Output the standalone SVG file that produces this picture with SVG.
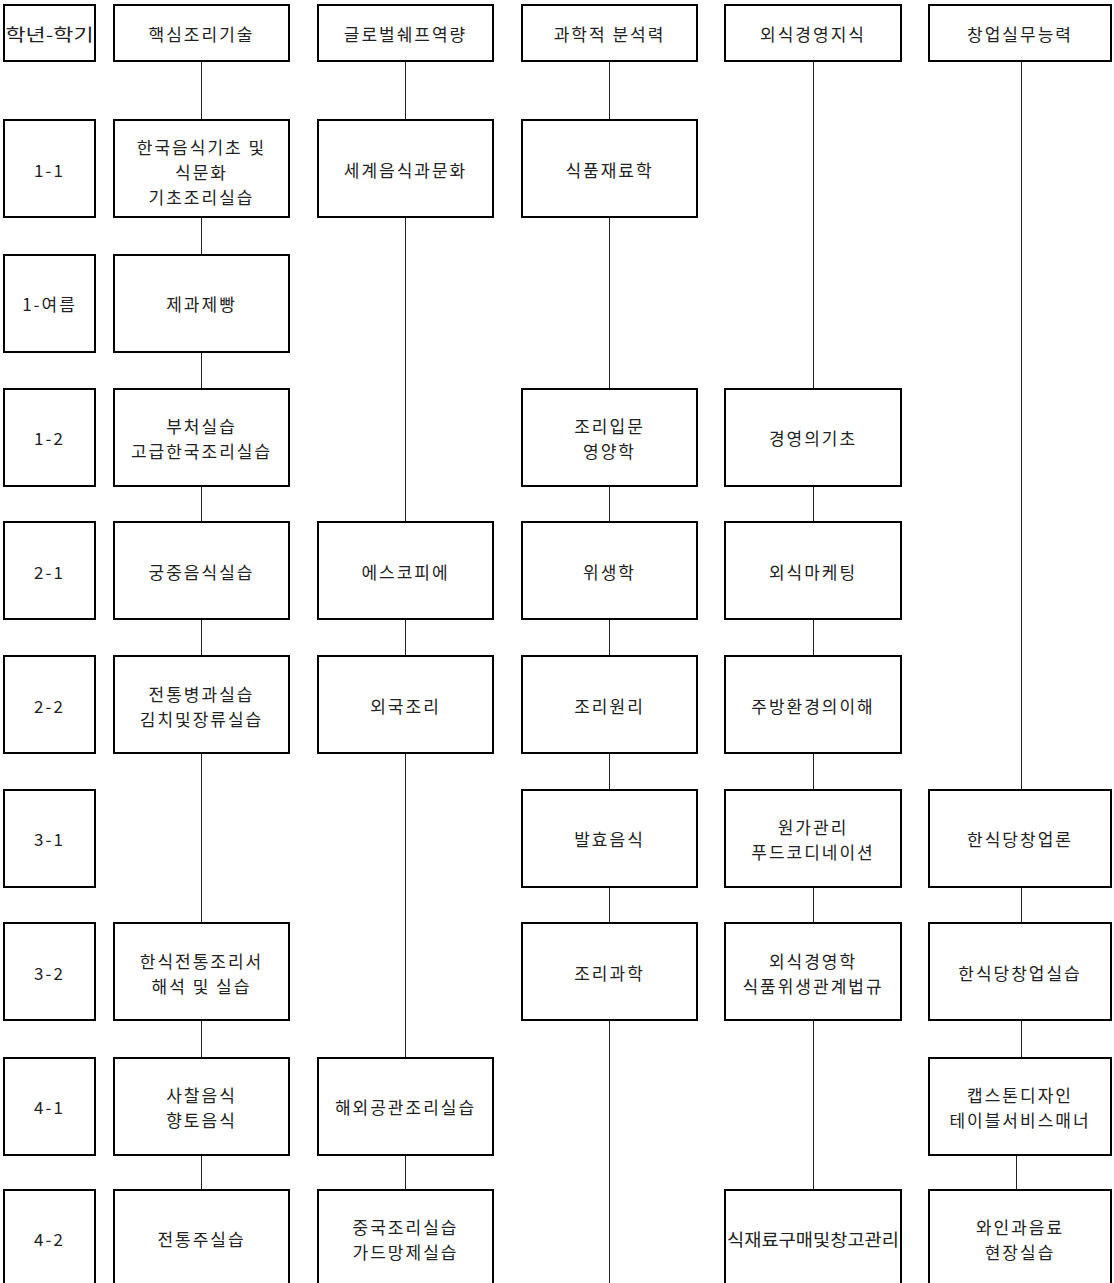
<svg xmlns="http://www.w3.org/2000/svg" width="1114" height="1283" viewBox="0 0 1114 1283">
<style>
.b{fill:#fff;stroke:#000;stroke-width:2}
.t{font-family:"Noto Sans CJK KR","Noto Sans",sans-serif;font-size:17px;letter-spacing:2px;fill:#222;text-anchor:middle;dominant-baseline:central}
.c line{stroke:#222;stroke-width:1}
</style>
<rect width="1114" height="1283" fill="#fff"/>
<g class="c" id="connectors">
<line x1="201.5" y1="61" x2="201.5" y2="120"/>
<line x1="201.5" y1="217" x2="201.5" y2="255"/>
<line x1="201.5" y1="352" x2="201.5" y2="389"/>
<line x1="201.5" y1="486" x2="201.5" y2="522"/>
<line x1="201.5" y1="619" x2="201.5" y2="656"/>
<line x1="201.5" y1="753" x2="201.5" y2="923"/>
<line x1="201.5" y1="1020" x2="201.5" y2="1058"/>
<line x1="201.5" y1="1155" x2="201.5" y2="1190"/>
<line x1="405.5" y1="61" x2="405.5" y2="120"/>
<line x1="405.5" y1="217" x2="405.5" y2="522"/>
<line x1="405.5" y1="619" x2="405.5" y2="656"/>
<line x1="405.5" y1="753" x2="405.5" y2="1058"/>
<line x1="405.5" y1="1155" x2="405.5" y2="1190"/>
<line x1="609.5" y1="61" x2="609.5" y2="120"/>
<line x1="609.5" y1="217" x2="609.5" y2="389"/>
<line x1="609.5" y1="486" x2="609.5" y2="522"/>
<line x1="609.5" y1="619" x2="609.5" y2="656"/>
<line x1="609.5" y1="753" x2="609.5" y2="790"/>
<line x1="609.5" y1="887" x2="609.5" y2="923"/>
<line x1="609.5" y1="1020" x2="609.5" y2="1283"/>
<line x1="813.5" y1="61" x2="813.5" y2="389"/>
<line x1="813.5" y1="486" x2="813.5" y2="522"/>
<line x1="813.5" y1="619" x2="813.5" y2="656"/>
<line x1="813.5" y1="753" x2="813.5" y2="790"/>
<line x1="813.5" y1="887" x2="813.5" y2="923"/>
<line x1="813.5" y1="1020" x2="813.5" y2="1190"/>
<line x1="1021.5" y1="61" x2="1021.5" y2="790"/>
<line x1="1021.5" y1="887" x2="1021.5" y2="923"/>
<line x1="1021.5" y1="1020" x2="1021.5" y2="1058"/>
<line x1="1016.5" y1="1155" x2="1016.5" y2="1190"/>
</g>
<g id="h0"><rect class="b" x="4" y="5" width="91" height="56"/><text class="t" x="49.5" y="33" textLength="88" lengthAdjust="spacingAndGlyphs" style="letter-spacing:0">학년-학기</text></g>
<g id="h1"><rect class="b" x="114" y="5" width="175" height="56"/><text class="t" x="201.5" y="33">핵심조리기술</text></g>
<g id="h2"><rect class="b" x="318" y="5" width="175" height="56"/><text class="t" x="405.5" y="33">글로벌쉐프역량</text></g>
<g id="h3"><rect class="b" x="522" y="5" width="175" height="56"/><text class="t" x="609.5" y="33">과학적 분석력</text></g>
<g id="h4"><rect class="b" x="725" y="5" width="176" height="56"/><text class="t" x="813" y="33">외식경영지식</text></g>
<g id="h5"><rect class="b" x="929" y="5" width="182" height="56"/><text class="t" x="1020" y="33">창업실무능력</text></g>

<g id="s11"><rect class="b" x="4" y="120" width="91" height="97"/><text class="t" x="49.5" y="169">1-1</text></g>
<g id="n11a"><rect class="b" x="114" y="120" width="175" height="97"/><text class="t" x="201.5" y="146">한국음식기초 및<tspan x="201.5" dy="25">식문화</tspan><tspan x="201.5" dy="25">기초조리실습</tspan></text></g>
<g id="n11b"><rect class="b" x="318" y="120" width="175" height="97"/><text class="t" x="405.5" y="169">세계음식과문화</text></g>
<g id="n11c"><rect class="b" x="522" y="120" width="175" height="97"/><text class="t" x="609.5" y="169">식품재료학</text></g>

<g id="s1s"><rect class="b" x="4" y="255" width="91" height="97"/><text class="t" x="49.5" y="303">1-여름</text></g>
<g id="n1sa"><rect class="b" x="114" y="255" width="175" height="97"/><text class="t" x="201.5" y="303">제과제빵</text></g>

<g id="s12"><rect class="b" x="4" y="389" width="91" height="97"/><text class="t" x="49.5" y="437">1-2</text></g>
<g id="n12a"><rect class="b" x="114" y="389" width="175" height="97"/><text class="t" x="201.5" y="425">부처실습<tspan x="201.5" dy="25">고급한국조리실습</tspan></text></g>
<g id="n12c"><rect class="b" x="522" y="389" width="175" height="97"/><text class="t" x="609.5" y="425">조리입문<tspan x="609.5" dy="25">영양학</tspan></text></g>
<g id="n12d"><rect class="b" x="725" y="389" width="176" height="97"/><text class="t" x="813" y="437">경영의기초</text></g>

<g id="s21"><rect class="b" x="4" y="522" width="91" height="97"/><text class="t" x="49.5" y="571">2-1</text></g>
<g id="n21a"><rect class="b" x="114" y="522" width="175" height="97"/><text class="t" x="201.5" y="571">궁중음식실습</text></g>
<g id="n21b"><rect class="b" x="318" y="522" width="175" height="97"/><text class="t" x="405.5" y="571">에스코피에</text></g>
<g id="n21c"><rect class="b" x="522" y="522" width="175" height="97"/><text class="t" x="609.5" y="571">위생학</text></g>
<g id="n21d"><rect class="b" x="725" y="522" width="176" height="97"/><text class="t" x="813" y="571">외식마케팅</text></g>

<g id="s22"><rect class="b" x="4" y="656" width="91" height="97"/><text class="t" x="49.5" y="705">2-2</text></g>
<g id="n22a"><rect class="b" x="114" y="656" width="175" height="97"/><text class="t" x="201.5" y="693">전통병과실습<tspan x="201.5" dy="25">김치및장류실습</tspan></text></g>
<g id="n22b"><rect class="b" x="318" y="656" width="175" height="97"/><text class="t" x="405.5" y="705">외국조리</text></g>
<g id="n22c"><rect class="b" x="522" y="656" width="175" height="97"/><text class="t" x="609.5" y="705">조리원리</text></g>
<g id="n22d"><rect class="b" x="725" y="656" width="176" height="97"/><text class="t" x="813" y="705">주방환경의이해</text></g>

<g id="s31"><rect class="b" x="4" y="790" width="91" height="97"/><text class="t" x="49.5" y="838">3-1</text></g>
<g id="n31c"><rect class="b" x="522" y="790" width="175" height="97"/><text class="t" x="609.5" y="838">발효음식</text></g>
<g id="n31d"><rect class="b" x="725" y="790" width="176" height="97"/><text class="t" x="813" y="826">원가관리<tspan x="813" dy="25">푸드코디네이션</tspan></text></g>
<g id="n31e"><rect class="b" x="929" y="790" width="182" height="97"/><text class="t" x="1020" y="838">한식당창업론</text></g>

<g id="s32"><rect class="b" x="4" y="923" width="91" height="97"/><text class="t" x="49.5" y="972">3-2</text></g>
<g id="n32a"><rect class="b" x="114" y="923" width="175" height="97"/><text class="t" x="201.5" y="960">한식전통조리서<tspan x="201.5" dy="25">해석 및 실습</tspan></text></g>
<g id="n32c"><rect class="b" x="522" y="923" width="175" height="97"/><text class="t" x="609.5" y="972">조리과학</text></g>
<g id="n32d"><rect class="b" x="725" y="923" width="176" height="97"/><text class="t" x="813" y="960">외식경영학<tspan x="813" dy="25">식품위생관계법규</tspan></text></g>
<g id="n32e"><rect class="b" x="929" y="923" width="182" height="97"/><text class="t" x="1020" y="972">한식당창업실습</text></g>

<g id="s41"><rect class="b" x="4" y="1058" width="91" height="97"/><text class="t" x="49.5" y="1106">4-1</text></g>
<g id="n41a"><rect class="b" x="114" y="1058" width="175" height="97"/><text class="t" x="201.5" y="1094">사찰음식<tspan x="201.5" dy="25">향토음식</tspan></text></g>
<g id="n41b"><rect class="b" x="318" y="1058" width="175" height="97"/><text class="t" x="405.5" y="1106">해외공관조리실습</text></g>
<g id="n41e"><rect class="b" x="929" y="1058" width="182" height="97"/><text class="t" x="1020" y="1094">캡스톤디자인<tspan x="1020" dy="25">테이블서비스매너</tspan></text></g>

<g id="s42"><rect class="b" x="4" y="1190" width="91" height="97"/><text class="t" x="49.5" y="1238">4-2</text></g>
<g id="n42a"><rect class="b" x="114" y="1190" width="175" height="97"/><text class="t" x="201.5" y="1238">전통주실습</text></g>
<g id="n42b"><rect class="b" x="318" y="1190" width="175" height="97"/><text class="t" x="405.5" y="1226">중국조리실습<tspan x="405.5" dy="25">가드망제실습</tspan></text></g>
<g id="n42d"><rect class="b" x="725" y="1190" width="176" height="97"/><text class="t" x="813" y="1238" textLength="172" lengthAdjust="spacingAndGlyphs" style="letter-spacing:0">식재료구매및창고관리</text></g>
<g id="n42e"><rect class="b" x="929" y="1190" width="182" height="97"/><text class="t" x="1020" y="1226">와인과음료<tspan x="1020" dy="25">현장실습</tspan></text></g>
</svg>
